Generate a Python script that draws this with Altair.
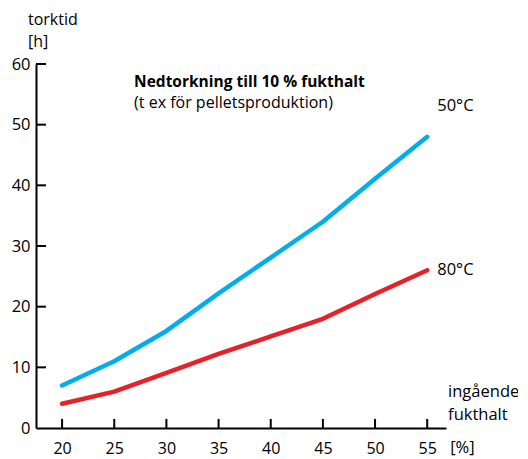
import altair as alt
import pandas as pd

moisture = [20, 25, 30, 35, 40, 45, 50, 55]
time_50 = [7, 11, 16, 22.2, 28.1, 34, 41.1, 48]
time_80 = [4, 6, 9.1, 12.2, 15.1, 18, 22.1, 26]
series_names = ["50°C", "80°C"]
series_colors = ["#00aeef", "#e52228"]
x_ticks = [20, 25, 30, 35, 40, 45, 50, 55]
y_ticks = [10, 20, 30, 40, 50, 60]

FONT = "Open Sans"
FS = 16.5

rows = []
for name, vals in zip(series_names, [time_50, time_80]):
    for m, v in zip(moisture, vals):
        rows.append({"fukthalt": m, "torktid": v, "serie": name})
df = pd.DataFrame(rows)

xs = alt.Scale(domain=[17.5, 56.8], nice=False, zero=False)
ys = alt.Scale(domain=[0, 60], nice=False)

x_axis = alt.Axis(values=x_ticks, ticks=False, grid=False, labelPadding=12,
                  domainColor="black", domainWidth=2, labelFont=FONT,
                  labelFontSize=16, labelColor="black", title=None)
y_axis = alt.Axis(values=[0] + y_ticks, ticks=False, grid=False, labelPadding=6,
                  domainColor="black", domainWidth=2, labelFont=FONT,
                  labelFontSize=FS, labelColor="black", title=None)

lines = alt.Chart(df).mark_line(strokeWidth=4.5, strokeCap="round", strokeJoin="round").encode(
    x=alt.X("fukthalt:Q", scale=xs, axis=x_axis),
    y=alt.Y("torktid:Q", scale=ys, axis=y_axis),
    color=alt.Color("serie:N", scale=alt.Scale(domain=series_names, range=series_colors), legend=None),
)

ytick_df = pd.DataFrame({"v": y_ticks})
ytick_layer = alt.Chart(ytick_df).mark_rule(color="black", strokeWidth=2).encode(
    y=alt.Y("v:Q", scale=ys), x=alt.value(0), x2=alt.value(10)
)
xtick_df = pd.DataFrame({"v": x_ticks})
xtick_layer = alt.Chart(xtick_df).mark_rule(color="black", strokeWidth=2).encode(
    x=alt.X("v:Q", scale=xs), y=alt.datum(0, scale=ys), y2=alt.datum(1.5)
)

labels_df = pd.DataFrame({
    "x": [26.9, 26.9, 55, 55, 16.73, 16.73, 57.0, 57.0, 57.2],
    "y": [56.2, 52.8, 52.2, 26.0, 66.5, 62.8, 5.1, 1.3, -3.3],
    "text": ["Nedtorkning till 10 % fukthalt", "(t ex för pelletsproduktion)",
             "50°C", "80°C", "torktid", "[h]", "ingående", "fukthalt", "[%]"],
    "w": ["bold", "normal", "normal", "normal", "normal", "normal", "normal", "normal", "normal"],
    "fs": [15.5, 16, 16.5, 16.5, 16, 16, 16.5, 16.5, 16.5],
    "b": ["alphabetic", "alphabetic", "alphabetic", "middle", "alphabetic", "alphabetic",
          "alphabetic", "alphabetic", "middle"],
    "dx": [0, 0, 10, 10, 0, 0, 0, 0, 0],
})

def text_layer(sub, weight, baseline, dx, fs):
    return alt.Chart(sub).mark_text(align="left", baseline=baseline, font=FONT, fontSize=fs,
                                     fontWeight=weight, color="black", dx=dx).encode(
        x=alt.X("x:Q", scale=xs), y=alt.Y("y:Q", scale=ys), text="text:N"
    )

texts = []
for (w, b, dx, fs), sub in labels_df.groupby(["w", "b", "dx", "fs"]):
    texts.append(text_layer(sub, w, b, int(dx), float(fs)))

chart = alt.layer(lines, ytick_layer, xtick_layer, *texts).properties(
    width=410, height=364,
    autosize=alt.AutoSizeParams(type="none"),
    padding={"left": 28, "top": 56, "right": 72, "bottom": 31},
).configure_view(stroke=None)

chart.save("out.html", embed_options={"renderer": "svg", "actions": False})
